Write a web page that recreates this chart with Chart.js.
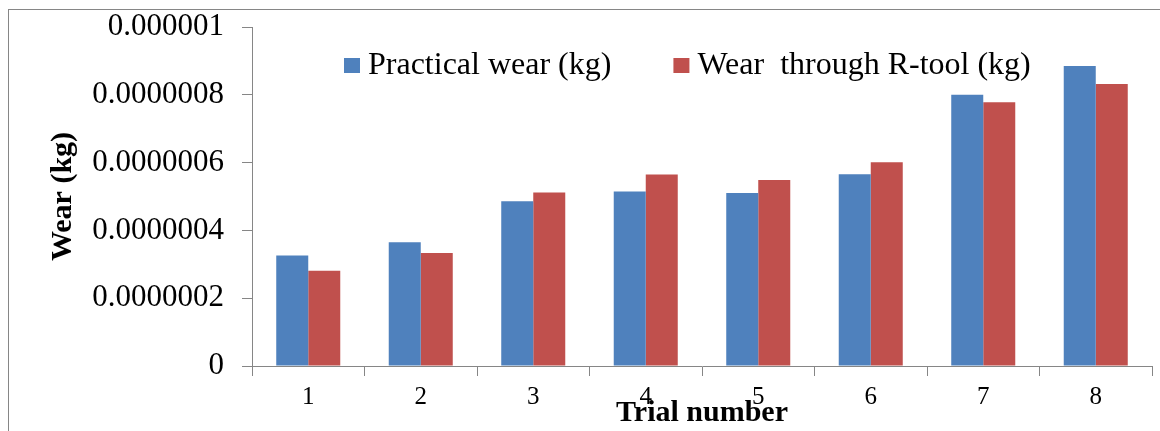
<!DOCTYPE html>
<html>
<head>
<meta charset="utf-8">
<script src="https://cdn.jsdelivr.net/npm/chart.js@4"></script>
<style>
  html, body { margin: 0; padding: 0; background: #fff; }
  canvas { display: block; }
</style>
</head>
<body>
<canvas id="grafico" width="1160" height="431"></canvas>
<script>
// dados
const trials = ['1', '2', '3', '4', '5', '6', '7', '8'];
const practicalWear = [0.000000326, 0.000000365, 0.000000486, 0.000000515, 0.00000051, 0.000000566, 0.0000008, 0.000000885];
const rToolWear = [0.000000281, 0.000000333, 0.000000512, 0.000000565, 0.000000549, 0.000000601, 0.000000778, 0.000000832];
const yTickLabels = ['0', '0.0000002', '0.0000004', '0.0000006', '0.0000008', '0.000001'];

const serif = "'Liberation Serif', 'Times New Roman', serif";
const eixoCor = '#868686';

// moldura externa + legenda sobreposta (estilo Excel)
const molduraPlugin = {
    id: 'moldura',
    beforeDraw(chart) {
        const ctx = chart.ctx;
        ctx.save();
        ctx.fillStyle = '#fff';
        ctx.fillRect(0, 0, chart.width, chart.height);
        ctx.strokeStyle = eixoCor;
        ctx.lineWidth = 1;
        ctx.strokeRect(8.5, 9.5, chart.width + 50, chart.height + 50);
        ctx.restore();
    },
    afterDraw(chart) {
        const ctx = chart.ctx;
        ctx.save();
        ctx.font = '32px ' + serif;
        ctx.textBaseline = 'middle';
        let x = 344;
        chart.data.datasets.forEach(ds => {
            ctx.fillStyle = ds.backgroundColor;
            ctx.fillRect(x, 58, 16, 15);
            ctx.fillStyle = '#000';
            ctx.fillText(ds.label, x + 24, 66);
            x += 24 + ctx.measureText(ds.label).width + 62;
        });
        ctx.restore();
    }
};

const ctx = document.getElementById('grafico').getContext('2d');

new Chart(ctx, {
    type: 'bar',
    data: {
        labels: trials,
        datasets: [
            {
                label: 'Practical wear (kg)',
                data: practicalWear,
                backgroundColor: '#4F81BD',
                borderWidth: 0,
                categoryPercentage: 0.569,
                barPercentage: 1
            },
            {
                label: 'Wear  through R-tool (kg)',
                data: rToolWear,
                backgroundColor: '#C0504D',
                borderWidth: 0,
                categoryPercentage: 0.569,
                barPercentage: 1
            }
        ]
    },
    options: {
        responsive: false,
        animation: false,
        layout: { padding: { left: 9, right: 8, top: 27, bottom: 0 } },
        plugins: {
            legend: { display: false },
            title: { display: false },
            tooltip: { enabled: false }
        },
        scales: {
            x: {
                afterFit: s => { s.height = 65; s.paddingLeft = 0; s.paddingRight = 0; },
                grid: {
                    drawOnChartArea: false,
                    drawTicks: true,
                    tickLength: 10,
                    color: eixoCor
                },
                border: { color: eixoCor, width: 1 },
                ticks: {
                    color: '#000',
                    padding: 6,
                    font: { family: serif, size: 25 }
                },
                title: {
                    display: true,
                    text: 'Trial number',
                    color: '#000',
                    padding: 0,
                    font: { family: serif, size: 30, weight: 'bold', lineHeight: 1.2 }
                }
            },
            y: {
                min: 0,
                max: 0.000001,
                afterFit: s => { s.width = 243; s.paddingTop = 0; s.paddingBottom = 0; },
                grid: {
                    drawOnChartArea: false,
                    drawTicks: true,
                    tickLength: 10,
                    color: eixoCor
                },
                border: { color: eixoCor, width: 1 },
                ticks: {
                    stepSize: 0.0000002,
                    color: '#000',
                    padding: 18,
                    font: { family: serif, size: 31 },
                    callback: (val, i) => yTickLabels[i]
                },
                title: {
                    display: true,
                    text: 'Wear (kg)',
                    color: '#000',
                    padding: { top: 36, bottom: 0 },
                    font: { family: serif, size: 30, weight: 'bold', lineHeight: 1.2 }
                }
            }
        }
    },
    plugins: [molduraPlugin]
});
</script>
</body>
</html>
